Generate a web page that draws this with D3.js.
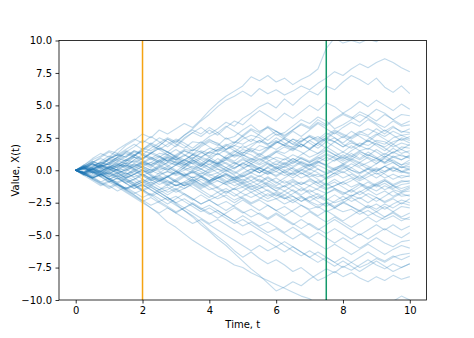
<!DOCTYPE html>
<html>
<head>
<meta charset="utf-8">
<script src="https://cdn.jsdelivr.net/npm/d3@7"></script>
<style>
  body { margin: 0; background: #fff; }
  text { font-family: "DejaVu Sans", sans-serif; }
</style>
</head>
<body>
<svg id="walks"></svg>
<script>

// Time grid the paths were read at
var times = [0, 0.25, 0.5, 0.75, 1, 1.25, 1.5, 1.75, 2, 2.25, 2.5, 2.75, 3, 3.25, 3.5, 3.75,
  4, 4.25, 4.5, 4.75, 5, 5.25, 5.5, 5.75, 6, 6.25, 6.5, 6.75, 7, 7.25, 7.5, 7.75,
  8, 8.25, 8.5, 8.75, 9, 9.25, 9.5, 9.75, 10];

// Tick labels
var xTicks = [0, 2, 4, 6, 8, 10];
var yTicks = [-10, -7.5, -5, -2.5, 0, 2.5, 5, 7.5, 10];

// Vertical marker lines
var markerTimes = [2, 7.5];
var markerColors = ["#f5a312", "#14996b"];

// Sample paths X(t), one value per entry of times
var path01 = [0,0.4,0.8,1.1,1.5,1.3,1.9,2.3,2.8,2.5,3.1,2.8,3.2,3.6,3.3,3.9,4.6,5.2,5.7,6.1,6.5,7.2,6.9,7.3,6.8,7.1,6.6,7.0,7.3,7.8,9.4,10.2,9.8,10.0,9.8,10.1,9.9,10.4,10.8,10.5,10.7];
var path02 = [0,-0.2,0.3,0.6,0.4,0.9,0.7,1.2,1.5,1.3,1.9,2.4,2.1,2.7,3.2,3.8,4.3,4.9,5.4,5.7,6.1,5.7,6.3,5.9,6.2,5.8,6.1,6.5,6.2,6.7,7.1,7.6,7.3,7.8,8.2,7.9,8.3,8.6,8.3,7.9,7.6];
var path03 = [0,0.4,0.2,0.7,1.1,0.8,1.4,1.8,2.3,2.0,2.5,2.2,1.8,2.4,2.9,3.3,2.8,3.2,3.7,3.4,4.0,4.4,4.9,5.2,4.8,5.5,5.0,5.6,6.1,5.8,6.5,6.2,6.8,7.3,7.0,6.6,7.1,6.4,6.0,6.5,5.9];
var path04 = [0,0.2,-0.2,0.3,0.5,1.0,1.4,1.1,1.6,2.1,1.8,1.4,1.9,2.5,2.9,2.6,3.1,2.7,3.3,3.8,3.5,4.1,4.6,4.2,3.8,4.4,4.0,4.5,5.0,4.6,5.2,4.9,4.4,4.8,5.3,4.9,5.4,5.0,4.6,5.1,4.7];
var path05 = [0,-0.3,0.1,0.4,0.2,0.7,0.5,1.0,0.8,1.3,1.7,1.4,1.0,1.5,1.2,1.8,2.2,1.9,2.5,2.1,2.7,3.2,2.9,3.4,3.0,2.6,3.1,3.6,3.3,3.9,3.5,4.0,4.4,4.1,3.7,4.2,3.8,4.3,3.9,3.5,3.8];
var path06 = [0,0.4,0.9,1.3,1.0,1.6,2.0,2.4,2.1,2.6,2.2,1.8,2.3,1.9,1.5,2.0,2.4,2.0,1.6,2.1,2.6,2.2,2.8,3.3,3.0,2.5,3.0,2.6,3.1,3.6,3.2,2.8,3.3,3.7,3.4,3.9,3.5,3.0,3.4,2.9,3.2];
var path07 = [0,-0.2,-0.5,-0.1,0.3,0.0,-0.4,0.1,0.5,0.2,0.7,1.1,0.8,0.4,0.9,1.4,1.1,1.6,2.0,1.7,1.3,1.8,2.3,2.0,2.5,2.1,1.7,2.2,2.7,2.4,2.9,2.5,2.1,2.6,3.0,2.7,3.2,2.8,3.3,3.0,2.9];
var path08 = [0,0.3,0.1,-0.3,0.2,0.6,0.3,0.8,1.2,0.9,0.5,1.0,0.6,0.2,0.7,0.3,0.8,1.3,0.9,1.4,1.9,1.5,1.1,1.6,2.1,2.5,2.2,1.8,2.3,1.9,2.4,2.9,2.5,3.0,2.6,2.2,2.7,3.1,2.7,2.3,2.6];
var path09 = [0,-0.4,-0.1,-0.5,-0.9,-0.6,-1.0,-0.7,-0.3,-0.7,-0.2,0.2,-0.1,0.4,0.8,0.5,1.0,0.6,1.1,1.5,1.2,0.8,1.3,0.9,1.4,1.8,1.5,2.0,1.6,2.1,2.5,2.2,1.8,2.3,1.9,2.4,2.8,2.4,2.0,2.5,2.3];
var path10 = [0,0.2,0.5,0.2,0.6,1.0,0.7,1.1,1.5,1.9,1.6,2.0,2.4,2.1,1.7,2.2,1.8,1.4,1.9,1.5,1.1,1.6,1.2,1.7,2.2,1.9,2.4,2.0,1.6,2.1,1.7,2.2,2.6,2.2,1.8,2.3,1.9,1.5,2.0,1.6,2.0];
var path11 = [0,-0.3,0.1,-0.2,0.2,-0.1,-0.5,-0.1,0.3,0.0,0.4,0.1,-0.3,0.2,0.6,0.3,0.8,0.5,1.0,0.7,1.2,0.9,0.5,1.0,1.4,1.1,0.7,1.2,1.6,1.3,1.8,1.4,1.0,1.5,1.9,1.6,2.1,1.7,1.3,1.8,1.7];
var path12 = [0,0.3,0.7,0.4,0.9,1.3,1.0,1.5,1.2,1.7,2.1,2.5,2.2,2.7,3.1,2.8,3.3,2.9,3.4,3.0,2.6,3.1,2.7,2.3,2.8,2.4,2.0,2.5,2.1,1.7,2.2,1.8,1.4,1.9,1.5,1.1,1.6,1.2,1.7,1.3,1.5];
var path13 = [0,-0.2,-0.6,-0.3,-0.7,-0.4,-0.8,-1.2,-0.9,-0.5,-0.9,-0.5,-0.1,-0.4,0.0,-0.3,0.1,0.5,0.2,0.6,0.3,0.7,1.1,0.8,0.4,0.9,0.5,1.0,0.7,1.1,1.5,1.2,0.8,1.3,0.9,1.4,1.0,0.6,1.1,0.8,1.2];
var path14 = [0,0.2,0.0,0.4,0.1,-0.3,0.1,0.5,0.2,-0.2,0.2,0.6,1.0,0.7,1.2,0.8,0.4,0.9,0.5,0.1,0.6,0.2,-0.2,0.3,0.7,0.4,0.9,0.5,0.1,0.6,1.0,0.7,1.2,0.8,1.3,0.9,0.5,1.0,1.4,1.1,1.0];
var path15 = [0,-0.3,-0.1,-0.4,0.0,0.3,-0.1,0.3,0.0,-0.4,-0.8,-0.5,-0.9,-0.5,-0.1,-0.4,-0.8,-0.4,0.0,-0.3,0.1,0.5,0.2,-0.2,0.2,0.6,0.3,0.7,0.4,0.8,1.2,0.9,0.5,0.9,0.6,1.0,0.7,1.1,0.7,0.4,0.8];
var path16 = [0,0.3,0.6,0.9,0.6,1.0,1.3,1.0,0.6,1.0,0.7,0.3,0.7,0.4,0.8,0.4,0.0,0.4,0.8,0.5,0.9,0.5,0.1,0.5,0.2,-0.2,0.2,0.6,0.3,0.7,0.3,0.0,0.4,0.8,0.5,0.1,0.5,0.9,0.6,0.2,0.5];
var path17 = [0,-0.2,0.1,0.4,0.1,-0.2,-0.6,-0.3,-0.7,-1.0,-0.7,-1.1,-0.8,-1.2,-0.9,-0.5,-0.9,-0.6,-0.2,-0.6,-0.3,0.1,-0.2,0.2,-0.1,0.3,0.7,0.4,0.0,0.4,0.1,-0.3,0.1,0.5,0.2,-0.2,0.2,-0.1,0.3,-0.1,0.2];
var path18 = [0,0.2,-0.1,0.2,0.5,0.2,0.6,0.3,0.7,0.4,0.8,1.2,0.9,0.5,0.1,0.5,0.2,-0.2,0.2,-0.1,-0.5,-0.2,0.2,-0.1,-0.5,-0.1,-0.4,0.0,-0.3,0.1,-0.3,0.1,-0.2,0.2,-0.2,0.2,-0.1,0.3,-0.1,0.3,0.0];
var path19 = [0,-0.3,-0.6,-0.9,-0.6,-1.0,-1.4,-1.1,-1.5,-1.2,-0.8,-1.2,-0.8,-0.4,-0.8,-0.5,-0.1,0.3,0.0,0.4,0.8,0.5,0.9,0.5,0.1,0.5,0.1,-0.3,0.1,-0.2,-0.6,-0.2,0.2,-0.2,-0.6,-0.2,-0.6,-0.2,0.2,-0.1,-0.3];
var path20 = [0,0.3,0.0,0.3,0.0,0.4,0.8,1.2,0.9,1.3,1.7,1.4,1.0,0.6,1.0,0.6,0.2,0.6,0.2,-0.2,0.2,-0.2,0.2,0.6,0.2,-0.2,-0.6,-0.2,-0.6,-1.0,-0.6,-0.2,-0.6,-0.3,-0.7,-0.3,0.1,-0.3,-0.7,-0.4,-0.5];
var path21 = [0,-0.2,0.1,-0.2,-0.5,-0.2,-0.6,-0.3,0.1,-0.3,-0.7,-0.4,-0.8,-1.2,-0.8,-1.2,-0.9,-1.3,-0.9,-0.5,-0.9,-1.3,-1.0,-0.6,-1.0,-0.6,-0.2,-0.6,-0.3,-0.7,-1.1,-0.7,-1.1,-0.8,-0.4,-0.8,-1.2,-0.8,-1.2,-0.9,-0.8];
var path22 = [0,0.2,0.5,0.2,-0.2,0.1,-0.3,0.0,-0.4,-0.1,0.3,0.0,0.4,0.8,0.5,0.1,0.5,0.1,-0.3,-0.7,-0.4,-0.8,-0.4,-0.8,-1.2,-0.8,-1.2,-1.6,-1.2,-0.8,-1.2,-0.9,-1.3,-1.7,-1.3,-0.9,-1.3,-1.0,-1.4,-1.1,-1.0];
var path23 = [0,-0.3,-0.7,-1.0,-1.3,-1.0,-1.4,-1.8,-1.5,-1.9,-1.5,-1.1,-1.5,-1.1,-0.7,-1.1,-0.8,-0.4,-0.8,-1.2,-0.9,-0.5,-0.9,-0.5,-0.9,-1.3,-0.9,-1.3,-1.7,-1.4,-1.0,-1.4,-1.8,-1.5,-1.9,-1.5,-1.1,-1.5,-1.2,-1.6,-1.3];
var path24 = [0,0.3,0.1,0.5,0.8,0.5,0.1,-0.3,0.0,-0.4,-0.8,-0.5,-0.1,-0.5,-0.9,-1.3,-1.0,-1.4,-1.8,-1.4,-1.0,-1.4,-1.8,-2.2,-1.8,-2.2,-1.8,-1.4,-1.8,-2.2,-1.8,-1.5,-1.9,-1.5,-1.1,-1.5,-1.9,-1.6,-2.0,-1.7,-1.6];
var path25 = [0,-0.2,0.2,-0.1,0.3,0.0,0.4,0.1,-0.3,-0.7,-0.4,-0.8,-1.2,-0.9,-1.3,-1.7,-2.1,-1.7,-2.1,-2.5,-2.1,-2.5,-2.2,-1.8,-2.2,-1.9,-1.5,-1.9,-1.5,-1.9,-2.3,-1.9,-2.3,-2.0,-1.6,-2.0,-2.4,-2.0,-1.6,-2.0,-1.9];
var path26 = [0,0.2,0.6,1.0,1.4,1.1,1.5,1.2,0.8,0.4,0.8,0.4,0.0,-0.4,-0.1,-0.5,-0.9,-0.6,-1.0,-0.7,-1.1,-1.5,-1.2,-1.6,-2.0,-1.6,-2.0,-2.4,-2.0,-2.4,-2.8,-2.4,-2.0,-2.4,-2.1,-2.5,-2.1,-2.5,-2.2,-2.6,-2.2];
var path27 = [0,-0.3,-0.6,-0.3,-0.7,-1.1,-1.4,-1.1,-0.7,-1.1,-1.5,-1.9,-1.5,-1.9,-2.3,-1.9,-2.3,-2.0,-1.6,-2.0,-1.6,-1.2,-1.6,-2.0,-1.7,-2.1,-2.5,-2.1,-2.5,-2.9,-2.5,-2.9,-2.5,-2.1,-2.5,-2.9,-2.6,-3.0,-2.6,-2.3,-2.5];
var path28 = [0,0.3,0.7,0.4,0.8,1.2,1.6,2.0,1.6,2.0,1.6,1.2,1.6,1.2,0.8,0.4,0.8,0.4,0.0,-0.4,-0.8,-0.4,-0.8,-1.2,-1.6,-1.2,-1.6,-2.0,-2.4,-2.0,-2.4,-2.8,-2.4,-2.8,-3.2,-2.8,-3.2,-2.8,-3.2,-2.8,-2.9];
var path29 = [0,-0.2,-0.5,-0.9,-1.2,-1.6,-1.3,-1.7,-2.1,-1.8,-2.2,-2.6,-2.2,-1.8,-2.2,-2.6,-2.3,-2.7,-3.1,-2.7,-2.3,-2.7,-3.1,-2.7,-3.1,-3.5,-3.1,-2.7,-3.1,-3.5,-3.1,-3.5,-3.9,-3.5,-3.1,-3.5,-3.2,-3.6,-3.2,-3.6,-3.3];
var path30 = [0,0.2,-0.1,-0.4,-0.1,-0.5,-0.2,-0.6,-1.0,-0.7,-1.1,-0.8,-1.2,-0.9,-0.5,-0.9,-1.3,-1.7,-1.4,-1.8,-2.2,-2.6,-2.3,-2.7,-3.1,-2.8,-3.2,-3.6,-3.2,-3.6,-4.0,-3.6,-4.0,-4.4,-4.0,-3.6,-4.0,-3.6,-3.3,-3.7,-3.8];
var path31 = [0,-0.4,-0.8,-1.2,-0.9,-1.3,-1.7,-2.1,-2.5,-2.9,-3.3,-2.9,-3.3,-2.9,-2.5,-2.9,-3.3,-3.7,-3.3,-2.9,-3.3,-3.0,-3.4,-3.8,-3.4,-3.8,-4.2,-3.8,-4.2,-4.6,-4.2,-3.8,-4.2,-4.6,-5.0,-4.6,-4.2,-4.6,-4.2,-4.6,-4.3];
var path32 = [0,0.2,0.5,0.1,-0.3,-0.7,-0.4,-0.8,-1.2,-0.9,-1.3,-1.7,-1.4,-1.8,-2.2,-2.6,-2.3,-2.7,-2.4,-2.8,-3.2,-3.6,-3.3,-3.7,-3.3,-3.7,-4.1,-4.5,-4.1,-4.5,-4.9,-4.5,-4.9,-5.3,-4.9,-5.3,-4.9,-4.5,-4.9,-5.2,-4.8];
var path33 = [0,-0.3,0.0,-0.3,-0.7,-0.4,-0.8,-1.2,-0.9,-1.3,-1.7,-2.1,-2.5,-2.2,-2.6,-3.0,-2.7,-3.1,-3.5,-3.9,-3.5,-3.9,-4.3,-4.0,-4.4,-4.8,-4.4,-4.8,-5.2,-4.8,-5.2,-5.6,-5.2,-5.6,-6.0,-5.6,-5.2,-5.6,-5.9,-5.5,-5.4];
var path34 = [0,-0.2,-0.6,-0.3,-0.7,-1.1,-1.5,-1.2,-1.6,-2.0,-1.7,-2.1,-2.5,-2.9,-2.6,-3.0,-3.4,-3.1,-3.5,-3.9,-4.3,-4.0,-4.4,-4.8,-4.5,-4.9,-5.3,-4.9,-5.3,-5.7,-6.1,-5.7,-6.1,-6.5,-6.1,-5.7,-6.1,-6.5,-6.1,-5.8,-6.0];
var path35 = [0,-0.3,-0.7,-1.1,-0.8,-1.2,-1.6,-2.0,-2.4,-2.1,-2.5,-2.9,-3.3,-3.7,-4.1,-3.8,-4.2,-4.6,-5.0,-5.4,-5.8,-6.2,-5.8,-6.2,-5.9,-6.3,-5.9,-6.3,-6.7,-6.3,-6.7,-7.1,-6.7,-7.1,-6.7,-6.3,-6.7,-7.0,-6.6,-6.9,-6.6];
var path36 = [0,0.2,-0.2,-0.5,-0.2,-0.6,-1.0,-1.4,-1.1,-1.5,-1.9,-2.3,-2.0,-2.4,-2.8,-3.2,-2.9,-3.3,-3.7,-4.1,-3.8,-4.2,-4.6,-5.0,-5.4,-5.8,-6.2,-6.6,-6.2,-6.6,-7.0,-7.4,-7.0,-7.4,-7.8,-7.4,-7.0,-7.4,-7.8,-7.5,-7.2];
var path37 = [0,-0.3,-0.6,-1.0,-1.4,-1.1,-1.5,-1.9,-2.3,-2.7,-2.4,-2.8,-3.2,-2.9,-3.3,-3.7,-4.1,-3.8,-4.2,-4.6,-5.0,-4.7,-5.1,-5.5,-5.9,-5.5,-5.9,-6.3,-6.7,-7.1,-6.7,-7.1,-7.5,-7.1,-7.5,-7.2,-6.8,-7.1,-6.7,-6.5,-6.4];
var path38 = [0,0.2,-0.1,-0.5,-0.9,-0.6,-1.0,-1.4,-1.1,-1.5,-1.9,-2.3,-2.7,-3.1,-3.5,-4.0,-4.6,-5.1,-5.6,-6.2,-6.7,-6.3,-6.8,-7.2,-6.9,-7.3,-7.8,-7.5,-8.0,-8.5,-8.2,-7.8,-8.2,-7.9,-8.3,-8.6,-8.2,-8.5,-8.1,-8.4,-8.2];
var path39 = [0,-0.3,-0.6,-0.3,-0.7,-1.1,-1.5,-1.9,-2.4,-2.9,-3.4,-4.0,-4.4,-4.9,-5.4,-5.8,-6.2,-6.6,-6.9,-7.3,-7.5,-7.9,-8.2,-8.5,-8.8,-9.1,-9.4,-9.7,-9.9,-10.4,-10.9,-11.3,-11.0,-11.4,-11.1,-10.7,-10.9,-10.4,-10.1,-9.7,-10.0];
var path40 = [0,-0.2,0.1,-0.2,-0.6,-1.0,-0.7,-1.1,-1.5,-1.9,-2.4,-2.1,-2.6,-3.1,-3.6,-4.2,-4.7,-5.3,-5.8,-6.4,-7.0,-7.6,-8.1,-8.7,-9.3,-9.0,-8.6,-8.9,-8.4,-8.0,-7.6,-7.9,-7.4,-7.7,-7.3,-6.9,-7.3,-7.6,-7.2,-7.5,-7.2];
var path41 = [0,0.1,0.5,0.3,0.9,1.2,0.8,1.1,1.7,1.5,1.9,2.4,2.0,1.7,2.2,2.1,2.6,2.9,2.4,2.6,3.1,3.5,3.0,3.3,2.7,2.9,3.4,3.9,3.6,4.1,3.8,3.2,3.5,3.9,4.3,4.0,3.6,3.3,3.8,3.4,3.5];
var path42 = [0,-0.1,0.3,0.6,0.4,0.2,0.7,1.0,0.9,1.4,1.1,0.7,1.2,1.6,1.5,1.9,2.3,2.1,1.6,1.9,2.4,2.7,2.5,2.0,2.3,1.9,1.8,2.3,2.6,2.2,2.5,3.0,2.7,2.4,2.8,2.6,2.2,2.0,2.5,2.7,2.4];
var path43 = [0,0.2,-0.1,-0.3,0.1,0.4,0.3,0.8,0.5,0.9,1.3,1.2,0.8,1.1,1.6,1.4,1.0,1.3,0.9,1.2,1.6,1.4,1.9,1.7,2.1,2.4,2.0,1.8,2.3,2.6,2.2,2.5,2.0,1.7,2.1,1.9,2.3,2.2,1.8,2.1,1.9];
var path44 = [0,0.3,0.2,0.6,0.9,0.7,1.1,1.5,1.3,1.0,0.6,0.9,0.5,0.8,1.2,1.0,1.4,1.8,1.5,1.1,1.4,1.2,0.8,1.1,1.5,1.3,1.7,1.4,1.0,1.3,1.6,1.2,0.9,1.1,1.5,1.7,1.4,1.0,1.4,1.6,1.3];
var path45 = [0,-0.2,-0.4,-0.1,-0.3,0.1,0.0,0.4,0.2,-0.1,0.3,0.6,0.4,0.8,0.5,0.9,0.7,0.3,0.6,0.2,0.5,0.9,0.7,1.1,0.8,0.5,0.9,0.6,0.3,0.6,0.4,0.8,1.0,0.7,0.3,0.6,0.9,0.5,0.8,0.4,0.6];
var path46 = [0,0.1,0.4,0.2,-0.1,0.3,0.5,0.1,-0.2,0.1,-0.1,-0.5,-0.2,0.2,0.0,0.3,0.7,0.5,0.9,0.6,0.2,0.4,0.0,-0.3,0.1,0.3,-0.1,0.2,0.5,0.1,-0.2,0.2,0.4,0.0,-0.3,0.1,-0.1,0.3,0.0,-0.2,0.1];
var path47 = [0,-0.1,0.2,-0.1,-0.4,-0.2,-0.6,-0.3,0.0,-0.2,0.2,0.0,0.4,0.1,-0.2,0.1,-0.3,-0.6,-0.4,-0.8,-0.5,-0.2,-0.5,-0.1,-0.4,0.0,0.2,-0.2,-0.5,-0.3,-0.7,-0.4,-0.1,-0.5,-0.8,-0.5,-0.2,-0.6,-0.3,-0.6,-0.4];
var path48 = [0,0.2,0.0,-0.3,-0.2,-0.5,-0.9,-0.7,-0.4,-0.8,-0.6,-1.0,-0.7,-0.3,-0.6,-0.2,-0.5,-0.8,-1.1,-0.9,-1.3,-1.0,-0.7,-1.1,-1.4,-1.2,-0.8,-1.1,-0.7,-1.0,-1.4,-1.2,-0.9,-0.6,-1.0,-1.3,-1.0,-0.7,-1.1,-0.8,-0.9];
var path49 = [0,-0.2,-0.5,-0.3,-0.7,-0.9,-0.6,-1.0,-1.3,-1.1,-0.8,-0.5,-0.9,-1.2,-1.0,-1.4,-1.1,-0.8,-1.1,-1.5,-1.3,-1.7,-1.4,-1.0,-1.3,-1.6,-1.2,-0.9,-1.2,-1.5,-1.8,-1.4,-1.7,-2.0,-1.7,-1.3,-1.6,-1.2,-1.5,-1.7,-1.4];
var path50 = [0,0.1,-0.2,0.1,0.3,0.0,-0.3,-0.1,-0.4,-0.8,-0.5,-0.9,-1.2,-1.0,-0.7,-1.1,-1.5,-1.3,-1.7,-1.4,-1.8,-2.1,-1.8,-1.5,-1.9,-2.2,-2.0,-2.4,-2.1,-1.8,-2.2,-2.5,-2.3,-1.9,-2.2,-1.8,-2.1,-2.4,-2.1,-1.8,-2.0];
var path51 = [0,-0.2,0.1,-0.1,-0.5,-0.3,-0.7,-1.0,-0.8,-1.2,-1.5,-1.3,-1.7,-1.4,-1.1,-1.5,-1.9,-2.2,-1.9,-2.3,-2.0,-1.7,-2.1,-2.4,-2.2,-2.6,-2.3,-2.7,-3.0,-2.8,-3.2,-2.9,-2.5,-2.8,-3.1,-2.7,-3.0,-2.6,-2.9,-2.5,-2.7];
var path52 = [0,-0.3,-0.6,-0.4,-0.8,-1.1,-1.4,-1.2,-1.6,-1.3,-1.7,-1.5,-1.1,-1.4,-1.0,-0.7,-1.0,-0.6,-0.3,-0.6,-0.2,0.1,-0.2,0.2,0.5,0.2,0.6,0.9,0.6,1.0,0.7,1.1,1.4,1.1,0.8,1.2,0.9,0.6,1.0,1.2,0.9];
var path53 = [0,0.1,-0.2,0.0,-0.3,0.1,0.4,0.2,0.6,0.3,0.7,1.0,0.8,1.2,0.9,1.3,1.7,1.5,1.9,2.2,2.0,2.4,2.1,2.6,3.0,2.7,3.1,3.5,3.2,3.7,3.4,3.9,4.3,4.0,4.5,4.2,4.7,4.4,3.9,4.3,4.2];
var path54 = [0,0.3,0.6,0.5,0.9,1.2,1.0,1.4,1.2,0.8,1.1,0.7,0.4,0.6,0.2,-0.1,-0.4,-0.2,-0.6,-0.9,-0.7,-1.1,-1.4,-1.2,-1.6,-1.9,-2.3,-2.0,-2.4,-2.7,-2.5,-2.9,-3.2,-3.0,-3.4,-3.1,-3.5,-3.8,-3.5,-3.9,-3.6];
var path55 = [0,0.2,0.1,0.4,0.2,0.5,0.3,0.0,0.3,0.6,0.4,0.8,0.6,0.3,0.7,1.0,0.8,0.5,0.8,1.2,1.0,0.7,0.4,0.7,1.0,0.8,1.2,0.9,0.6,0.9,1.3,1.0,0.7,1.0,1.4,1.2,0.9,1.3,1.0,0.8,1.1];
var path56 = [0,-0.1,-0.3,0.0,0.2,0.0,-0.2,-0.5,-0.3,-0.6,-0.4,-0.1,-0.3,0.0,0.3,0.1,-0.2,0.1,-0.1,0.2,0.5,0.3,0.0,-0.3,-0.1,-0.4,-0.2,0.1,-0.2,-0.5,-0.3,0.0,0.3,0.0,-0.2,0.1,-0.3,-0.1,0.2,-0.1,-0.2];
var path57 = [0,0.2,0.5,0.3,0.6,0.4,0.8,0.6,0.9,1.3,1.0,1.4,1.1,0.8,1.2,1.5,1.3,1.6,1.4,1.0,1.3,1.7,1.5,1.8,2.2,1.9,1.6,2.0,1.7,2.1,2.4,2.2,1.8,2.1,1.9,2.3,2.0,1.8,2.2,2.4,2.1];
var path58 = [0,0.1,-0.2,-0.1,0.2,0.4,0.2,0.5,0.3,0.0,-0.3,-0.1,-0.4,-0.2,-0.6,-0.4,-0.8,-0.5,-0.9,-0.7,-1.0,-0.8,-1.2,-0.9,-0.6,-1.0,-0.7,-1.1,-0.8,-1.2,-1.5,-1.2,-0.9,-1.3,-1.0,-1.4,-1.1,-0.8,-1.2,-1.4,-1.2];
var path59 = [0,-0.2,0.1,0.3,0.1,-0.2,0.0,0.3,0.6,0.4,0.0,0.3,-0.1,-0.4,-0.2,-0.5,-0.8,-0.6,-0.3,-0.7,-0.4,-0.1,0.2,-0.1,0.3,0.0,-0.3,0.0,0.4,0.7,0.4,0.1,0.5,0.2,0.6,0.3,0.0,0.3,0.6,0.2,0.3];
var path60 = [0,0.2,0.0,0.3,0.5,0.8,0.5,0.7,0.4,0.6,1.0,0.7,1.1,1.5,1.3,1.0,1.4,1.2,1.6,1.9,1.7,2.0,2.3,1.9,1.6,2.0,2.4,2.2,2.6,2.3,2.7,3.1,2.8,2.5,2.9,3.2,2.9,2.6,3.0,2.7,2.8];

var paths = [path01, path02, path03, path04, path05, path06, path07, path08, path09, path10,
  path11, path12, path13, path14, path15, path16, path17, path18, path19, path20,
  path21, path22, path23, path24, path25, path26, path27, path28, path29, path30,
  path31, path32, path33, path34, path35, path36, path37, path38, path39, path40,
  path41, path42, path43, path44, path45, path46, path47, path48, path49, path50,
  path51, path52, path53, path54, path55, path56, path57, path58, path59, path60];

var width = 474;
var height = 338;
var margin = {top: 40.5, right: 47.5, bottom: 38, left: 59};
var plotW = width - margin.left - margin.right;
var plotH = height - margin.top - margin.bottom;

var svg = d3.select("#walks")
  .attr("width", width)
  .attr("height", height);

// x has matplotlib's 5% padding around 0..10
var xScale = d3.scaleLinear()
  .domain([-0.5, 10.5])
  .range([0, plotW]);

var yScale = d3.scaleLinear()
  .domain([-10, 10])
  .range([plotH, 0]);

var g = svg.append("g")
  .attr("transform", "translate(" + margin.left + "," + margin.top + ")");

// Clip everything to the axes box
svg.append("defs").append("clipPath")
  .attr("id", "plotClip")
  .append("rect")
  .attr("width", plotW)
  .attr("height", plotH);

var line = d3.line()
  .defined(function(d, i) { return i < times.length; })
  .x(function(d, i) { return xScale(times[i]); })
  .y(function(d) { return yScale(d); });

// All the sample paths, light and see-through
g.append("g")
  .attr("clip-path", "url(#plotClip)")
  .selectAll("path")
  .data(paths)
  .enter()
  .append("path")
  .attr("d", line)
  .attr("fill", "none")
  .attr("stroke", "#1f77b4")
  .attr("stroke-opacity", 0.27)
  .attr("stroke-width", 1.1)
  .attr("stroke-linejoin", "round");

// Orange and green marker lines
g.selectAll(".marker")
  .data(markerTimes)
  .enter()
  .append("line")
  .attr("class", "marker")
  .attr("x1", function(d) { return xScale(d); })
  .attr("x2", function(d) { return xScale(d); })
  .attr("y1", 0)
  .attr("y2", plotH)
  .attr("stroke", function(d, i) { return markerColors[i]; })
  .attr("stroke-width", 1.5);

// Axes
var xAxis = g.append("g")
  .attr("transform", "translate(0," + plotH + ")")
  .call(d3.axisBottom(xScale).tickValues(xTicks).tickFormat(d3.format("d")).tickSizeOuter(0).tickSize(3.5).tickPadding(3.5));

var yAxis = g.append("g")
  .call(d3.axisLeft(yScale).tickValues(yTicks).tickFormat(d3.format(".1f")).tickSizeOuter(0).tickSize(3.5).tickPadding(3.5));

[xAxis, yAxis].forEach(function(ax) {
  ax.select(".domain").remove();
  ax.selectAll("line").attr("stroke", "#000").attr("stroke-width", 0.8);
  ax.selectAll("text")
    .style("font-family", "DejaVu Sans")
    .style("font-size", "10px")
    .attr("fill", "#000");
});

// The axes frame
g.append("rect")
  .attr("width", plotW)
  .attr("height", plotH)
  .attr("fill", "none")
  .attr("stroke", "#000")
  .attr("stroke-width", 0.8);

// Axis labels
svg.append("text")
  .attr("x", margin.left + plotW / 2)
  .attr("y", 328)
  .attr("text-anchor", "middle")
  .style("font-size", "10px")
  .text("Time, t");

svg.append("text")
  .attr("transform", "translate(19," + (margin.top + plotH / 2) + ") rotate(-90)")
  .attr("text-anchor", "middle")
  .style("font-size", "10px")
  .text("Value, X(t)");

</script>
</body>
</html>
